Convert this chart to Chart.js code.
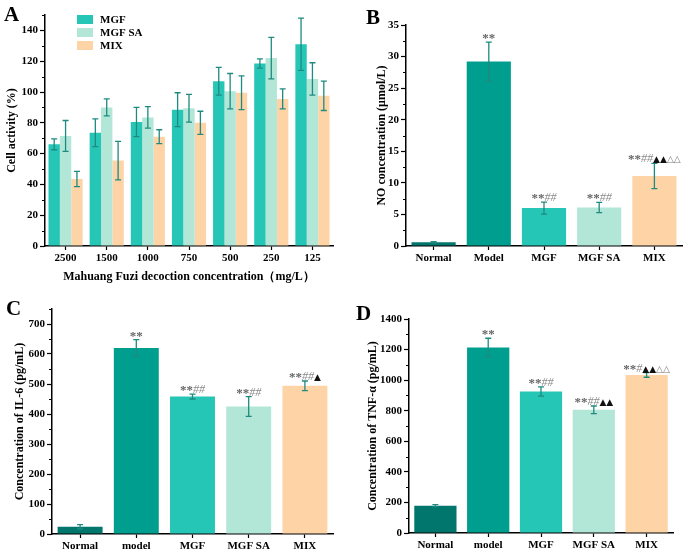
<!DOCTYPE html>
<html>
<head>
<meta charset="utf-8">
<script src="https://cdn.jsdelivr.net/npm/chart.js@4.4.1/dist/chart.umd.min.js"></script>
<style>
  body { margin: 0; background: #fff; }
  #wrap { position: relative; width: 685px; height: 553px; }
  canvas { position: absolute; }
  .letra { position: absolute; font-family: 'Liberation Serif', serif; font-weight: bold; font-size: 21px; line-height: 1; color: #000; }
</style>
</head>
<body>
<div id="wrap">
  <canvas id="chartA" width="340" height="290" style="left:0;top:0"></canvas>
  <canvas id="chartB" width="345" height="290" style="left:340px;top:0"></canvas>
  <canvas id="chartC" width="340" height="263" style="left:0;top:290px"></canvas>
  <canvas id="chartD" width="345" height="263" style="left:340px;top:290px"></canvas>
  <div class="letra" style="left:4px;top:4px">A</div>
  <div class="letra" style="left:366px;top:7px">B</div>
  <div class="letra" style="left:6px;top:298px">C</div>
  <div class="letra" style="left:356px;top:303px">D</div>
</div>
<script>
// Datos del panel A (actividad celular)
const concentraciones = ['2500', '1500', '1000', '750', '500', '250', '125'];
const actividadMGF = [66, 73.5, 80.5, 88.5, 107, 118.5, 131];
const errorMGF = [3.5, 9, 9.5, 11, 9, 3, 17];
const actividadMGFSA = [71.5, 90, 83.5, 89.5, 100.5, 122, 108.5];
const errorMGFSA = [10, 5.5, 7, 9, 11.5, 13.5, 10.5];
const actividadMIX = [43.5, 55.5, 71, 80, 99.5, 95.5, 97.5];
const errorMIX = [5, 12.5, 4.5, 7.5, 11, 6.5, 9.5];
const ticksA = [0, 20, 40, 60, 80, 100, 120, 140];

// Panel B (NO)
const gruposB = ['Normal', 'Model', 'MGF', 'MGF SA', 'MIX'];
const valoresNO = [0.6, 29.2, 6.0, 6.1, 11.1];
const errorNO = [0.1, 3.1, 0.95, 0.8, 2.0];
const marcasNO = ['', '**', '**##', '**##', '**##▲▲△△'];
const ticksB = [0, 5, 10, 15, 20, 25, 30, 35];

// Panel C (IL-6)
const gruposCD = ['Normal', 'model', 'MGF', 'MGF SA', 'MIX'];
const valoresIL6 = [24, 620, 458, 425, 494];
const errorIL6 = [7, 28, 8, 33, 16];
const marcasIL6 = ['', '**', '**##', '**##', '**##▲'];
const ticksC = [0, 100, 200, 300, 400, 500, 600, 700];

// Panel D (TNF-α)
const valoresTNF = [179, 1214, 926, 806, 1034];
const errorTNF = [6, 60, 30, 25, 15];
const marcasTNF = ['', '**', '**##', '**##▲▲', '**#▲▲△△'];
const ticksD = [0, 200, 400, 600, 800, 1000, 1200, 1400];

const coloresGrupo = ['#00766c', '#009e8f', '#26c6b6', '#b2e7d8', '#fed4a7'];
const colorError = '#1f8a80';
const fuenteEje = { family: "'Liberation Serif', serif", weight: 'bold', size: 11 };
const fuenteTitulo = { family: "'Liberation Serif', serif", weight: 'bold', size: 12 };

// Barras de error
const errorBarsPlugin = {
    id: 'errorBars',
    afterDatasetsDraw(chart) {
        const ctx = chart.ctx;
        const y = chart.scales.y;
        chart.data.datasets.forEach((ds, i) => {
            if (!ds.errores) return;
            chart.getDatasetMeta(i).data.forEach((bar, j) => {
                const v = ds.data[j], e = ds.errores[j];
                const yTop = y.getPixelForValue(v + e);
                const yBot = y.getPixelForValue(v - e);
                ctx.save();
                ctx.strokeStyle = colorError;
                ctx.lineWidth = 1.3;
                ctx.beginPath();
                ctx.moveTo(bar.x, yTop); ctx.lineTo(bar.x, yBot);
                ctx.moveTo(bar.x - 3, yTop); ctx.lineTo(bar.x + 3, yTop);
                ctx.moveTo(bar.x - 3, yBot); ctx.lineTo(bar.x + 3, yBot);
                ctx.stroke();
                ctx.restore();
            });
        });
    }
};

// Marcas de significancia
function estiloMarca(c) {
    if (c === '*') return { font: "bold 13px 'Liberation Serif'", color: '#666' };
    if (c === '#') return { font: "italic 12px 'Liberation Serif'", color: '#8a8a8a' };
    if (c === '▲') return { font: "9px 'DejaVu Sans'", color: '#111' };
    return { font: "9px 'DejaVu Sans'", color: '#777' };
}

const marcasPlugin = {
    id: 'marcas',
    afterDatasetsDraw(chart) {
        const ctx = chart.ctx;
        const y = chart.scales.y;
        chart.data.datasets.forEach((ds, i) => {
            if (!ds.marcas) return;
            chart.getDatasetMeta(i).data.forEach((bar, j) => {
                const texto = ds.marcas[j];
                if (!texto) return;
                const base = y.getPixelForValue(ds.data[j] + ds.errores[j]) - 1;
                ctx.save();
                ctx.textBaseline = 'alphabetic';
                const chars = Array.from(texto);
                let total = 0;
                chars.forEach(c => { ctx.font = estiloMarca(c).font; total += ctx.measureText(c).width; });
                let x = bar.x - total / 2;
                chars.forEach(c => {
                    const st = estiloMarca(c);
                    ctx.font = st.font;
                    ctx.fillStyle = st.color;
                    ctx.fillText(c, x, c === '*' ? base + 1 : base);
                    x += ctx.measureText(c).width;
                });
                ctx.restore();
            });
        });
    }
};

// Ticks menores en el eje y
const ticksMenoresPlugin = {
    id: 'ticksMenores',
    afterDraw(chart) {
        const ctx = chart.ctx;
        const y = chart.scales.y;
        const vals = y.ticks.map(t => t.value);
        const paso = vals[1] - vals[0];
        ctx.save();
        ctx.strokeStyle = '#000';
        ctx.lineWidth = 1.2;
        ctx.beginPath();
        for (let v = vals[0] + paso / 2; v <= y.max; v += paso) {
            const py = Math.round(y.getPixelForValue(v)) + 0.5;
            ctx.moveTo(chart.chartArea.left - 3, py);
            ctx.lineTo(chart.chartArea.left, py);
        }
        ctx.stroke();
        ctx.restore();
    }
};

// Leyenda interna (panel A)
const leyendaPlugin = {
    id: 'leyendaInterna',
    afterDraw(chart, args, opts) {
        if (!opts.mostrar) return;
        const ctx = chart.ctx;
        const area = chart.chartArea;
        ctx.save();
        chart.data.datasets.forEach((ds, i) => {
            const top = area.top + i * 13;
            ctx.fillStyle = ds.backgroundColor;
            ctx.fillRect(area.left + 32, top, 16, 9);
            ctx.fillStyle = '#000';
            ctx.font = "bold 11px 'Liberation Serif'";
            ctx.textBaseline = 'middle';
            ctx.fillText(ds.label, area.left + 55, top + 5);
        });
        ctx.restore();
    }
};

function opcionesEjes(cfg) {
    return {
        responsive: false,
        animation: false,
        layout: { padding: { top: cfg.top, right: cfg.right, left: 0, bottom: 0 } },
        plugins: {
            legend: { display: false },
            tooltip: { enabled: false },
            leyendaInterna: { mostrar: !!cfg.leyenda }
        },
        scales: {
            x: {
                afterFit: s => { s.height = cfg.xAlto; },
                grid: { drawOnChartArea: false, offset: false, tickLength: 4, color: '#000', tickWidth: 1.2 },
                border: { display: true, color: '#000', width: 1.5 },
                ticks: { color: '#000', padding: 2, font: fuenteEje, maxRotation: 0, autoSkip: false },
                title: cfg.xTitulo
                    ? { display: true, text: cfg.xTitulo, color: '#000', font: fuenteTitulo, padding: { top: 4, bottom: 6 } }
                    : { display: false }
            },
            y: {
                min: 0,
                max: cfg.yMax,
                afterBuildTicks: s => { s.ticks = cfg.yTicks.map(v => ({ value: v })); },
                afterFit: s => { s.width = cfg.yAncho; },
                grid: { drawOnChartArea: false, tickLength: 5, color: '#000', tickWidth: 1.2 },
                border: { display: true, color: '#000', width: 1.5 },
                ticks: { color: '#000', padding: 2, font: fuenteEje, callback: v => String(v) },
                title: { display: true, text: cfg.yTitulo, color: '#000', font: fuenteTitulo, padding: { top: cfg.yTituloPad, bottom: 0 } }
            }
        }
    };
}

const pluginsComunes = [errorBarsPlugin, marcasPlugin, ticksMenoresPlugin, leyendaPlugin];

// Panel A
new Chart(document.getElementById('chartA'), {
    type: 'bar',
    data: {
        labels: concentraciones,
        datasets: [
            { label: 'MGF', data: actividadMGF, errores: errorMGF, backgroundColor: coloresGrupo[2], categoryPercentage: 0.83, barPercentage: 1 },
            { label: 'MGF SA', data: actividadMGFSA, errores: errorMGFSA, backgroundColor: coloresGrupo[3], categoryPercentage: 0.83, barPercentage: 1 },
            { label: 'MIX', data: actividadMIX, errores: errorMIX, backgroundColor: coloresGrupo[4], categoryPercentage: 0.83, barPercentage: 1 }
        ]
    },
    options: opcionesEjes({
        top: 15, right: 7, xAlto: 44, yAncho: 45, yMax: 150, yTicks: ticksA,
        yTitulo: 'Cell activity (%)', yTituloPad: 5,
        xTitulo: 'Mahuang Fuzi decoction concentration\uff08mg/L\uff09', leyenda: true
    }),
    plugins: pluginsComunes
});

function panelGrupos(id, etiquetas, valores, errores, marcas, cfg) {
    return new Chart(document.getElementById(id), {
        type: 'bar',
        data: {
            labels: etiquetas,
            datasets: [{
                data: valores, errores: errores, marcas: marcas,
                backgroundColor: coloresGrupo,
                categoryPercentage: 1, barPercentage: 0.8
            }]
        },
        options: opcionesEjes(cfg),
        plugins: pluginsComunes
    });
}

panelGrupos('chartB', gruposB, valoresNO, errorNO, marcasNO, {
    top: 25, right: 3, xAlto: 44, yAncho: 66, yMax: 35, yTicks: ticksB,
    yTitulo: 'NO concentration (\u03bcmol/L)', yTituloPad: 35
});

panelGrupos('chartC', gruposCD, valoresIL6, errorIL6, marcasIL6, {
    top: 19, right: 7, xAlto: 19, yAncho: 52, yMax: 750, yTicks: ticksC,
    yTitulo: 'Concentration of IL-6 (pg/mL)', yTituloPad: 13
});

panelGrupos('chartD', gruposCD, valoresTNF, errorTNF, marcasTNF, {
    top: 29, right: 12, xAlto: 20, yAncho: 69, yMax: 1400, yTicks: ticksD,
    yTitulo: 'Concentration of TNF-\u03b1 (pg/mL)', yTituloPad: 26
});
</script>
</body>
</html>
